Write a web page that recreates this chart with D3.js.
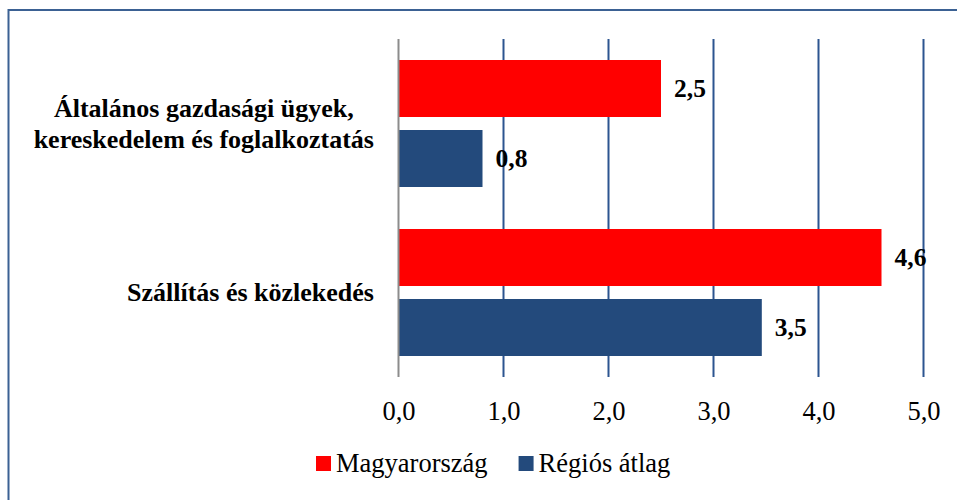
<!DOCTYPE html>
<html>
<head>
<meta charset="utf-8">
<script src="https://cdn.jsdelivr.net/npm/d3@7"></script>
<style>
  html, body { margin: 0; padding: 0; background: #fff; }
  svg, svg text { font-family: "Liberation Serif", "Tinos", "Times New Roman", "DejaVu Serif", serif !important; }
</style>
</head>
<body>
<svg id="chart" width="957" height="500"></svg>
<script>
// ---- data ----
const categories = [
  ["Általános gazdasági ügyek,", "kereskedelem és foglalkoztatás"],
  ["Szállítás és közlekedés"]
];
const seriesNames = ["Magyarország", "Régiós átlag"];
const seriesColors = ["#ff0000", "#234a7c"];
const magyarorszag = [2.5, 4.6];
const regiosAtlag = [0.8, 3.46];
const xTicks = [0, 1, 2, 3, 4, 5];

const seriesValues = [magyarorszag, regiosAtlag];
const fmt = v => d3.format(".1f")(v).replace(".", ",");

const svg = d3.select("#chart");
const W = 957, H = 500;

// outer border
svg.append("rect")
  .attr("x", 8.5).attr("y", 10)
  .attr("width", W + 20).attr("height", H + 20)
  .attr("fill", "none").attr("stroke", "#3b6193").attr("stroke-width", 2);

const plot = { left: 398.5, right: 923.5, top: 39, bottom: 377 };

const x = d3.scaleLinear().domain([0, 5]).range([plot.left, plot.right]);
const catKeys = categories.map((c, i) => i);
const y = d3.scaleBand().domain(catKeys).range([plot.top, plot.bottom]).padding(0);
const ys = d3.scaleBand().domain(d3.range(seriesNames.length))
  .range([0, y.bandwidth()]).paddingInner(0.1857).paddingOuter(0.3);

// gridlines
svg.append("g").selectAll("line")
  .data(xTicks.filter(t => t > 0))
  .join("line")
  .attr("x1", d => x(d)).attr("x2", d => x(d))
  .attr("y1", plot.top).attr("y2", plot.bottom)
  .attr("stroke", "#2c5590").attr("stroke-width", 2);

// bars
const bars = svg.append("g");
catKeys.forEach(ci => {
  seriesValues.forEach((vals, si) => {
    const v = vals[ci];
    const by = y(ci) + ys(si);
    bars.append("rect")
      .attr("x", x(0)).attr("y", by)
      .attr("width", x(v) - x(0)).attr("height", ys.bandwidth())
      .attr("fill", seriesColors[si]);
    bars.append("text")
      .attr("x", x(v) + 13)
      .attr("y", by + ys.bandwidth() / 2)
      .attr("dy", "0.35em")
      .attr("font-size", 25.5).attr("font-weight", "bold")
      .attr("fill", "#000")
      .text(fmt(v));
  });
});

// zero axis line
svg.append("line")
  .attr("x1", x(0)).attr("x2", x(0))
  .attr("y1", plot.top).attr("y2", plot.bottom)
  .attr("stroke", "#8c8c8c").attr("stroke-width", 2);

// x tick labels
const xAxis = d3.axisBottom(x).tickValues(xTicks).tickFormat(fmt).tickSize(0).tickPadding(0);
const gx = svg.append("g").attr("transform", `translate(0,${plot.bottom})`).call(xAxis);
gx.attr("font-family", null).attr("font-size", null);
gx.select(".domain").remove();
gx.selectAll("text")
  .attr("font-size", 26.5).attr("fill", "#000")
  .attr("dy", null).attr("y", 43);

// category labels
catKeys.forEach(ci => {
  const lines = categories[ci];
  const g = svg.append("g");
  const lh = 31;
  const cy = y(ci) + y.bandwidth() / 2;
  const texts = lines.map((ln, li) => g.append("text")
    .attr("font-size", 26).attr("font-weight", "bold").attr("fill", "#000")
    .attr("text-anchor", "middle")
    .attr("y", cy + (li - (lines.length - 1) / 2) * lh)
    .attr("dy", "0.33em")
    .text(ln));
  const maxW = d3.max(texts, t => t.node().getComputedTextLength());
  texts.forEach(t => t.attr("x", 374 - maxW / 2));
});

// legend
const legend = svg.append("g");
let lx = 316;
seriesNames.forEach((name, si) => {
  legend.append("rect")
    .attr("x", lx).attr("y", 456).attr("width", 15).attr("height", 15)
    .attr("fill", seriesColors[si]);
  const t = legend.append("text")
    .attr("x", lx + 20).attr("y", 472)
    .attr("font-size", 26.5).attr("fill", "#000")
    .text(name);
  lx += 20 + t.node().getComputedTextLength() + 31;
});
</script>
</body>
</html>
